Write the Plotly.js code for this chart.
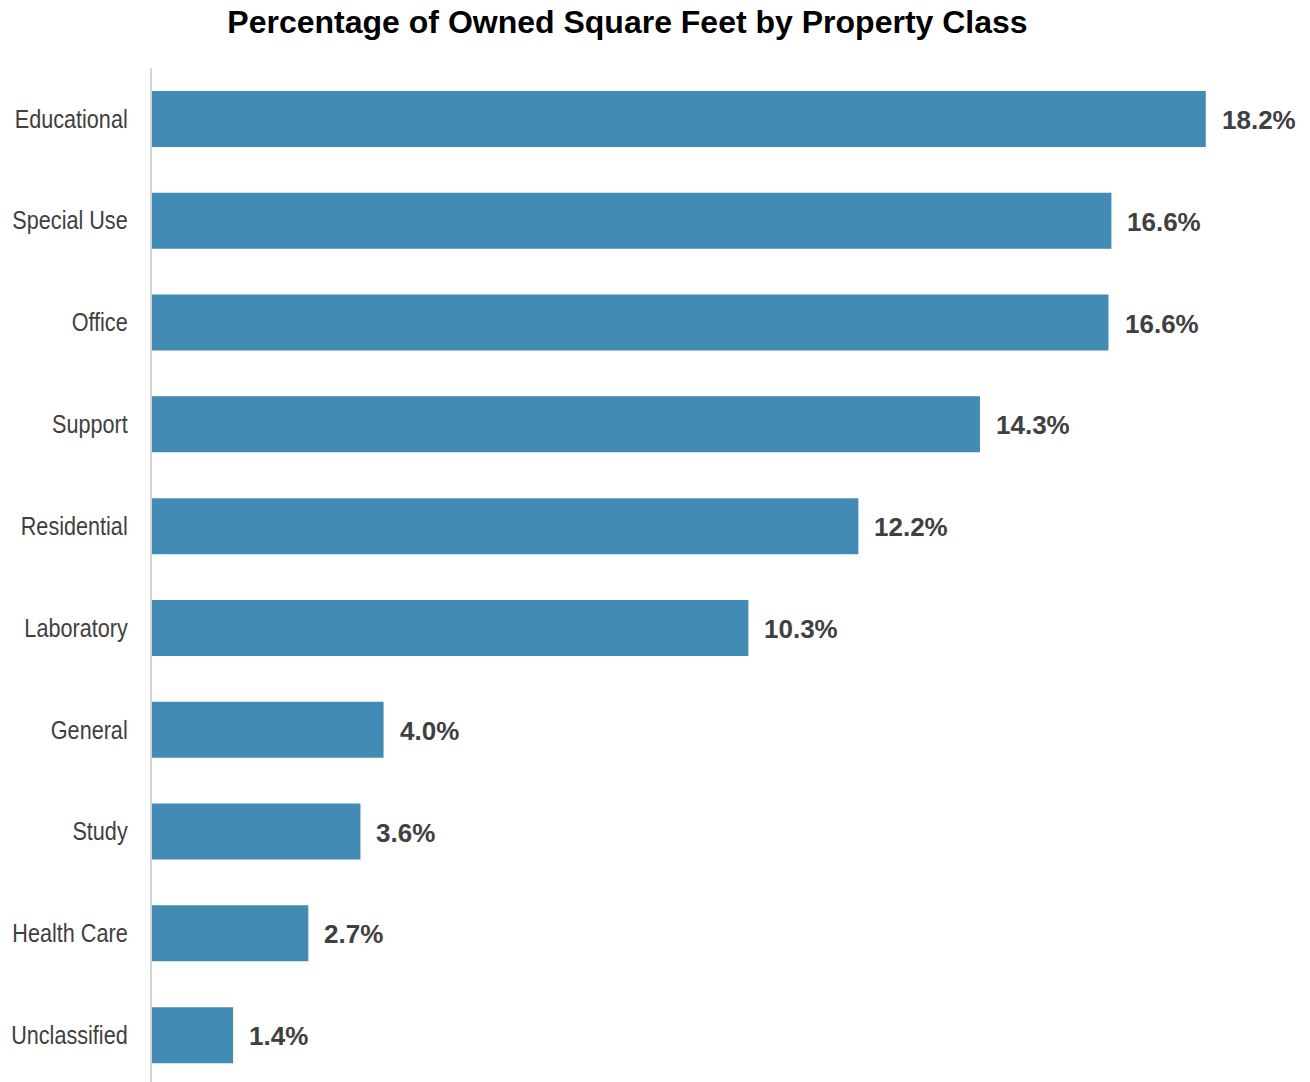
<!DOCTYPE html>
<html><head><meta charset="utf-8">
<script src="https://cdn.plot.ly/plotly-3.0.1.min.js"></script>
<style>body{margin:0;background:#fff}#c{width:1310px;height:1082px}</style>
</head><body><div id="c"></div>
<script>
const categories = ["Educational","Special Use","Office","Support","Residential","Laboratory","General","Study","Health Care","Unclassified"];
const values = [18.2, 16.57, 16.52, 14.3, 12.2, 10.3, 4.0, 3.6, 2.7, 1.4];
const labels = ["18.2%","16.6%","16.6%","14.3%","12.2%","10.3%","4.0%","3.6%","2.7%","1.4%"];

const trace = {
  type: "bar", orientation: "h",
  x: values, y: categories,
  marker: {color: "#428bb4"},
  hoverinfo: "none"
};
const annotations = categories.map((c, i) => ({
  x: values[i], y: c, xref: "x", yref: "y",
  text: "<b>" + labels[i] + "</b>", showarrow: false,
  xanchor: "left", xshift: 14, yshift: -1,
  font: {family: "Liberation Sans, Arial, sans-serif", size: 26, color: "#404040"}
}));
const layout = {
  width: 1310, height: 1082,
  margin: {l: 152, r: 0, t: 68, b: 0},
  paper_bgcolor: "#fff", plot_bgcolor: "#fff",
  title: {text: "<b>Percentage of Owned Square Feet by Property Class</b>", x: 0.479, xanchor: "center", y: 0.98, yanchor: "middle",
    font: {family: "Liberation Sans, Arial, sans-serif", size: 32, color: "#000"}},
  bargap: 0.45,
  showlegend: false,
  xaxis: {range: [0, 20], visible: false, showgrid: false, zeroline: false},
  yaxis: {type: "category", range: [9.46, -0.5], showgrid: false, zeroline: false,
    showline: true, linecolor: "#d4d4d4", linewidth: 2,
    ticks: "", ticklabelstandoff: 20,
    tickfont: {family: "Liberation Sans Narrow, Arial Narrow, Liberation Sans, sans-serif", size: 25, color: "#404040"}},
  annotations: annotations
};
Plotly.newPlot("c", [trace], layout, {displayModeBar: false, staticPlot: true}).then(() => {
  // emulate condensed face for category labels
  document.querySelectorAll("#c g.ytick text").forEach(t => {
    const x = parseFloat(t.getAttribute("x")) || 0;
    const g = t.parentNode;
    g.setAttribute("transform", `translate(${x},0) scale(0.865,1) translate(${-x},0)`);
  });
});
</script></body></html>
